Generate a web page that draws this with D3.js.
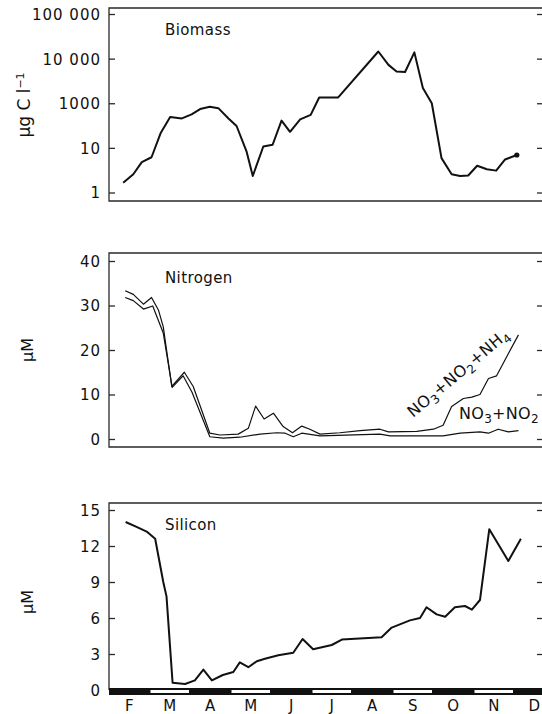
<!DOCTYPE html>
<html><head><meta charset="utf-8">
<script src="https://cdn.jsdelivr.net/npm/d3@7"></script>
<style>body{margin:0;background:#fff} svg{display:block}</style>
</head><body><svg id="c" width="542" height="714"></svg>
<script>
// ---- data ----
const monthLabels = ["F","M","A","M","J","J","A","S","O","N","D"];
const monthStart = [1,2,3,4,5,6,7,8,9,10,11]; // month index (Feb = 1)
const biomassTickLabels = ["1","10","1000","10 000","100 000"]; // tick levels 0..4
const nitrogenTicks = [0,10,20,30,40];
const siliconTicks = [0,3,6,9,12,15];

// biomass: time in months (Feb 1 = 1), value as axis level (0 = "1" ... 4 = "100 000")
const biomassMonth = [1.35,1.60,1.81,2.05,2.28,2.51,2.80,3.04,3.25,3.49,3.70,3.95,4.15,4.40,4.55,4.81,5.04,5.26,5.47,5.72,5.98,6.19,6.66,7.65,7.90,8.10,8.31,8.54,8.75,8.97,9.21,9.46,9.67,9.87,10.09,10.33,10.56,10.78,11.07];
const biomassLevel = [0.22,0.41,0.68,0.79,1.34,1.69,1.66,1.75,1.87,1.92,1.89,1.66,1.49,0.91,0.37,1.03,1.07,1.61,1.36,1.64,1.74,2.13,2.13,3.16,2.86,2.71,2.70,3.14,2.34,2.00,0.77,0.41,0.37,0.38,0.60,0.52,0.49,0.74,0.84];

// nitrogen (µM)
const totalNMonth = [1.40,1.60,1.85,2.05,2.22,2.34,2.55,2.86,3.08,3.49,3.74,4.19,4.44,4.62,4.83,5.06,5.30,5.53,5.76,5.96,6.21,6.70,7.20,7.69,7.90,8.60,9.01,9.25,9.46,9.75,9.96,10.16,10.37,10.57,10.82,11.11];
const totalN = [33.3,32.5,30.3,31.8,29.0,25.2,11.8,15.0,11.8,1.3,0.9,1.1,2.4,7.4,4.5,5.8,2.8,1.4,2.9,2.2,1.1,1.4,1.9,2.2,1.6,1.7,2.2,3.1,7.3,9.1,9.4,10.0,13.6,14.2,18.5,23.4];
const no3no2Month = [1.40,1.60,1.85,2.08,2.34,2.56,2.83,3.05,3.49,3.82,4.23,4.73,5.14,5.35,5.55,5.76,6.21,7.69,7.94,9.25,9.67,10.16,10.37,10.61,10.86,11.11];
const no3no2 = [31.8,31.1,29.2,29.9,23.8,11.6,14.2,10.5,0.5,0.2,0.4,1.1,1.4,1.3,0.5,1.3,0.7,1.1,0.7,0.7,1.3,1.6,1.3,2.2,1.6,1.9];

// silicon (µM)
const siliconMonth = [1.41,1.68,1.93,2.14,2.34,2.42,2.57,2.88,3.12,3.33,3.54,3.81,4.07,4.23,4.44,4.65,4.85,5.18,5.55,5.78,6.04,6.50,6.75,7.73,7.98,8.43,8.68,8.84,9.09,9.30,9.54,9.79,9.96,10.16,10.39,10.86,11.17];
const silicon = [14.0,13.6,13.2,12.6,9.0,7.8,0.6,0.5,0.8,1.7,0.8,1.25,1.5,2.3,1.9,2.4,2.6,2.9,3.1,4.25,3.4,3.75,4.2,4.4,5.2,5.8,6.0,6.9,6.3,6.1,6.9,7.0,6.7,7.5,13.4,10.75,12.6];

// ---- drawing ----
const svg = d3.select("#c");
const L = 109, R = 543;
const x = d3.scaleLinear().domain([1, 11]).range([109, 514]);
const ink = "#111", frameInk = "#2a2a2a";
const font = "DejaVu Sans, Arial, sans-serif";

function panel(cfg){
  const g = svg.append("g");
  const y = d3.scaleLinear().domain(cfg.domain).range(cfg.range);
  g.append("path").attr("d", `M${R},${cfg.top}H${L}V${cfg.bottom}` + (cfg.bottomLine ? `H${R}` : ""))
    .attr("fill","none").attr("stroke",frameInk).attr("stroke-width",1.3);
  const ax = d3.axisLeft(y).tickValues(cfg.ticks).tickSize(-6).tickPadding(8);
  if (cfg.fmt) ax.tickFormat(cfg.fmt);
  const ga = g.append("g").attr("transform",`translate(${L},0)`).call(ax);
  ga.select(".domain").remove();
  ga.selectAll("line").attr("stroke",frameInk).attr("stroke-width",1.3);
  ga.selectAll("text").attr("font-family",font).attr("font-size",15).attr("fill",ink)
    .attr("letter-spacing",1).attr("dy","0.36em");
  const axR = d3.axisRight(y).tickValues(cfg.ticks).tickSize(-6).tickFormat("");
  const gr = g.append("g").attr("transform",`translate(${R},0)`).call(axR);
  gr.select(".domain").remove();
  gr.selectAll("line").attr("stroke",frameInk).attr("stroke-width",1.3);
  g.append("text").attr("x",165).attr("y",cfg.titleY).text(cfg.title)
    .attr("font-family",font).attr("font-size",15).attr("letter-spacing",0.4).attr("fill",ink);
  return {g, y};
}

// Biomass
const bio = panel({domain:[0,4], range:[192.5,14], top:8, bottom:201, bottomLine:true,
  ticks:[0,1,2,3,4], fmt:(d)=>biomassTickLabels[d], title:"Biomass", titleY:35});
const bioPts = biomassMonth.map((m,i)=>[x(m), bio.y(biomassLevel[i])]);
bio.g.append("path").attr("d", d3.line()(bioPts)).attr("fill","none").attr("stroke",ink)
  .attr("stroke-width",2).attr("stroke-linejoin","round");
bio.g.append("circle").attr("cx",bioPts[bioPts.length-1][0]).attr("cy",bioPts[bioPts.length-1][1])
  .attr("r",2.6).attr("fill",ink);
const bl = svg.append("text").attr("transform","translate(30,105) rotate(-90)")
  .attr("text-anchor","middle").attr("font-family",font).attr("font-size",17).attr("fill",ink);
bl.append("tspan").text("µg C l");
bl.append("tspan").attr("dy",-6).attr("font-size",11).text("−1");

// Nitrogen
const nit = panel({domain:[0,40], range:[439,261], top:253, bottom:447, bottomLine:true,
  ticks:nitrogenTicks, title:"Nitrogen", titleY:283});
const lineN = d3.line();
nit.g.append("path").attr("d", lineN(totalNMonth.map((m,i)=>[x(m), nit.y(totalN[i])])))
  .attr("fill","none").attr("stroke",ink).attr("stroke-width",1.2).attr("stroke-linejoin","round");
nit.g.append("path").attr("d", lineN(no3no2Month.map((m,i)=>[x(m), nit.y(no3no2[i])])))
  .attr("fill","none").attr("stroke",ink).attr("stroke-width",1.2).attr("stroke-linejoin","round");
svg.append("text").attr("transform","translate(33,350) rotate(-90)")
  .attr("text-anchor","middle").attr("font-family",font).attr("font-size",16).attr("fill",ink).text("µM");

function chem(sel, parts){
  let shift = 0;
  parts.forEach(p=>{
    if (p.sub) { sel.append("tspan").attr("dy",4 - shift).attr("font-size",12).text(p.t); shift = 4; }
    else { sel.append("tspan").attr("dy",-shift).text(p.t); shift = 0; }
  });
}
const t1 = svg.append("text").attr("transform","translate(413,418) rotate(-40)")
  .attr("font-family",font).attr("font-size",16).attr("fill",ink).attr("letter-spacing",0.4);
chem(t1,[{t:"NO"},{t:"3",sub:1},{t:"+NO"},{t:"2",sub:1},{t:"+NH"},{t:"4",sub:1}]);
const t2 = svg.append("text").attr("x",459).attr("y",419)
  .attr("font-family",font).attr("font-size",16).attr("fill",ink).attr("letter-spacing",0.3);
chem(t2,[{t:"NO"},{t:"3",sub:1},{t:"+NO"},{t:"2",sub:1}]);

// Silicon
const sil = panel({domain:[0,15], range:[690,510], top:503, bottom:690, bottomLine:false,
  ticks:siliconTicks, title:"Silicon", titleY:530});
sil.g.append("path").attr("d", d3.line()(siliconMonth.map((m,i)=>[x(m), sil.y(silicon[i])])))
  .attr("fill","none").attr("stroke",ink).attr("stroke-width",2).attr("stroke-linejoin","round");
svg.append("text").attr("transform","translate(33,602) rotate(-90)")
  .attr("text-anchor","middle").attr("font-family",font).attr("font-size",16).attr("fill",ink).text("µM");

// month bar
const bar = svg.append("g");
bar.append("rect").attr("x",L).attr("y",688).attr("width",R-L).attr("height",7).attr("fill",ink);
bar.selectAll("rect.w").data(monthStart.filter((d,i)=>i%2===1)).join("rect")
  .attr("class","w").attr("x",d=>x(d)+1).attr("y",690).attr("width",d=>x(d+1)-x(d)-2).attr("height",3)
  .attr("fill","#fff");
bar.selectAll("text").data(monthLabels).join("text")
  .attr("x",(d,i)=>x(monthStart[i]+0.5)).attr("y",711).attr("text-anchor","middle")
  .attr("font-family",font).attr("font-size",15).attr("fill",ink).text(d=>d);
</script></body></html>
